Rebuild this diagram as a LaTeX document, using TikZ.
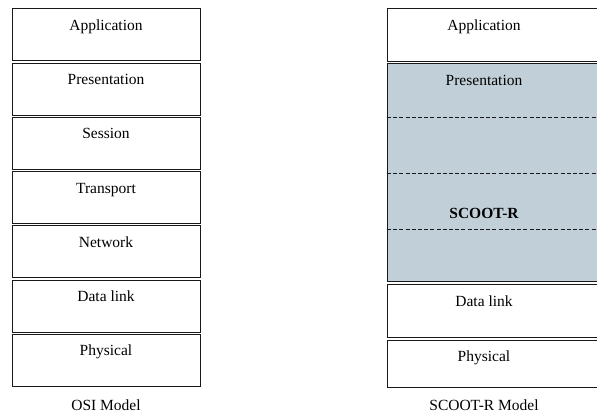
\documentclass[tikz,border=0pt]{standalone}
\usepackage{fontspec}
\setmainfont{Liberation Serif}
\definecolor{scootfill}{RGB}{193,208,216}
\definecolor{edge}{RGB}{25,25,25}
\begin{document}
\begin{tikzpicture}[x=1pt,y=-1pt,
  layerbox/.style={draw=edge, line width=1pt, rectangle, inner sep=0pt, anchor=north west},
  lbl/.style={font=\fontsize{15.5}{18}\selectfont, inner sep=0pt, anchor=base},
  sep/.style={draw=edge, line width=0.8pt, dash pattern=on 4pt off 2.2pt}]
\useasboundingbox (0,0) rectangle (597,417);
% OSI model
\foreach \n/\t [count=\i from 0] in {a/Application,p/Presentation,s/Session,t/Transport,n/Network,d/Data link,h/Physical}{
  \pgfmathsetmacro{\ytop}{8.5+54.2*\i}
  \node[layerbox, minimum width=188pt, minimum height=52pt] (osi\n) at (12,\ytop) {};
  \node[lbl] (osi\n txt) at (106,\ytop+22) {\t};
}
\node[lbl] (osicap) at (106,410) {OSI Model};
% SCOOT-R model
\node[layerbox, minimum width=212pt, minimum height=52.5pt] (sa) at (387,8.5) {};
\node[lbl] (satxt) at (484,30.5) {Application};
\node[layerbox, fill=scootfill, minimum width=212pt, minimum height=217.5pt] (ss) at (387,63.5) {};
\node[lbl] (sptxt) at (484,85.5) {Presentation};
\coordinate (d1l) at (387,117); \coordinate (d1r) at (597,117);
\coordinate (d2l) at (387,173); \coordinate (d2r) at (597,173);
\coordinate (d3l) at (387,229); \coordinate (d3r) at (597,229);
\draw[sep] (d1l) -- (d1r);
\draw[sep] (d2l) -- (d2r);
\draw[sep] (d3l) -- (d3r);
\node[lbl, font=\fontsize{15.5}{18}\selectfont\bfseries] (sctxt) at (484,218) {SCOOT-R};
\node[layerbox, minimum width=212pt, minimum height=52.5pt] (sd) at (387,284) {};
\node[lbl] (sdtxt) at (484,306) {Data link};
\node[layerbox, minimum width=212pt, minimum height=47pt] (sh) at (387,340) {};
\node[lbl] (shtxt) at (484,361.5) {Physical};
\node[lbl] (scap) at (484,410) {SCOOT-R Model};
\end{tikzpicture}
\end{document}
